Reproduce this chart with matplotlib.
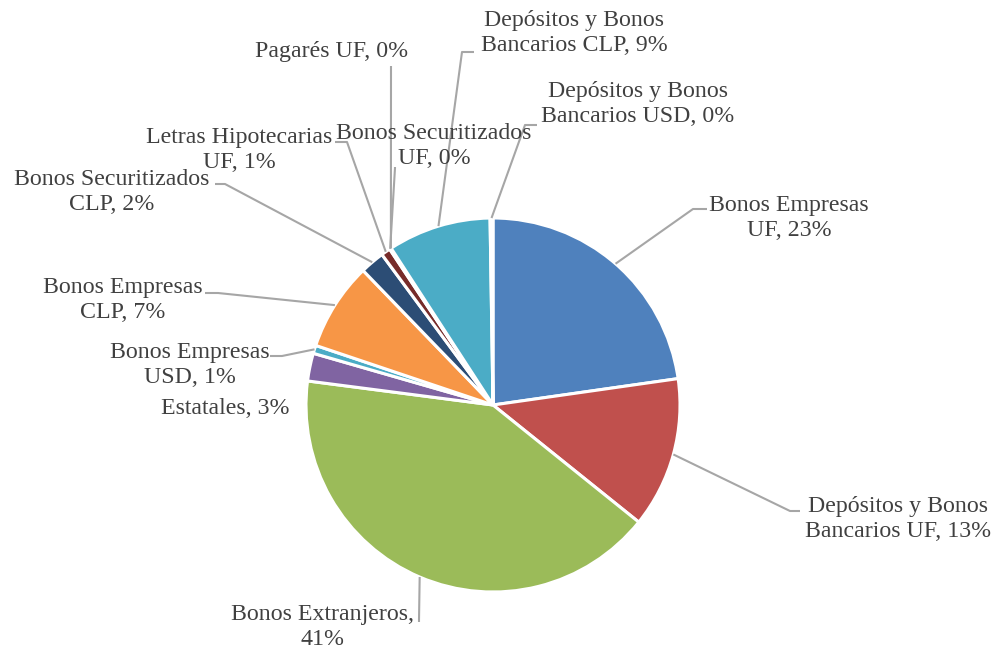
import matplotlib.pyplot as plt
import numpy as np

### Pie of portfolio composition

names = ['Bonos Empresas\nUF', 'Depósitos y Bonos\nBancarios UF', 'Bonos Extranjeros,\n',
         'Estatales', 'Bonos Empresas\nUSD', 'Bonos Empresas\nCLP',
         'Bonos Securitizados\nCLP', 'Letras Hipotecarias\nUF', 'Bonos Securitizados\nUF',
         'Pagarés UF', 'Depósitos y Bonos\nBancarios CLP', 'Depósitos y Bonos\nBancarios USD']
values = np.array([22.7, 13.0, 41.2, 2.4, 0.7, 7.6, 2.1, 0.8, 0.1, 0.05, 8.9, 0.25])
shown_pct = [23, 13, 41, 3, 1, 7, 2, 1, 0, 0, 9, 0]
colors = ['#4F81BD', '#C0504D', '#9BBB59', '#8064A2', '#4BACC6', '#F79646',
          '#2C4D75', '#772C2A', '#5F7530', '#4D3B62', '#4BACC6', '#F79646']

W, H = 1002, 654
fig = plt.figure(figsize=(W / 100, H / 100), dpi=100)
ax = fig.add_axes([0, 0, 1, 1])
ax.set_xlim(0, W)
ax.set_ylim(0, H)
ax.set_aspect('equal')
ax.axis('off')

# pixel helpers (y measured from top)
def P(x, y):
    return x, H - y

cx, cy = P(493, 405)
R = 187
ax.pie(values, colors=colors, startangle=90, counterclock=False, center=(cx, cy),
       radius=R, wedgeprops=dict(edgecolor='white', linewidth=2.2), frame=True)
ax.set_xlim(0, W)
ax.set_ylim(0, H)
ax.axis('off')

# label centres and leader elbows (pixel coords)
label_pos = [(789, 218), (898, 519), (323, 627), (225, 409), (190, 365), (123, 300),
             (112, 192), (239, 150), (434, 146), (332, 52), (574, 33), (638, 104)]
leaders = [[(707, 209), (693, 209)], [(800, 511), (790, 511)], [(419, 622), (419, 620)],
           None, [(270, 356), (282, 356)], [(205, 293), (218, 293)],
           [(215, 184), (225, 184)], [(335, 142), (347, 142)], [(395, 167), (395, 168)],
           [(391, 66), (391, 67)], [(474, 52), (462, 52)], [(537, 125), (525, 125)]]

frac = values / values.sum()
ends = 90 - 360 * np.cumsum(frac)
mids = ends + 180 * frac

for i, name in enumerate(names):
    if name.endswith(',\n'):
        txt = name + '%d%%' % shown_pct[i]
    else:
        txt = name + ', %d%%' % shown_pct[i]
    x, y = P(*label_pos[i])
    ax.text(x, y, txt, ha='center', va='center', multialignment='center',
            fontsize=17.2, family='Liberation Serif', color='#404040', linespacing=1.25)
    if leaders[i] is not None:
        a = np.deg2rad(mids[i])
        ex, ey = cx + R * np.cos(a), cy + R * np.sin(a)
        pts = [P(*p) for p in leaders[i]] + [(ex, ey)]
        ax.plot([p[0] for p in pts], [p[1] for p in pts], color='#A6A6A6', lw=1.5,
                solid_capstyle='butt')

plt.savefig('out.png', dpi=100)
